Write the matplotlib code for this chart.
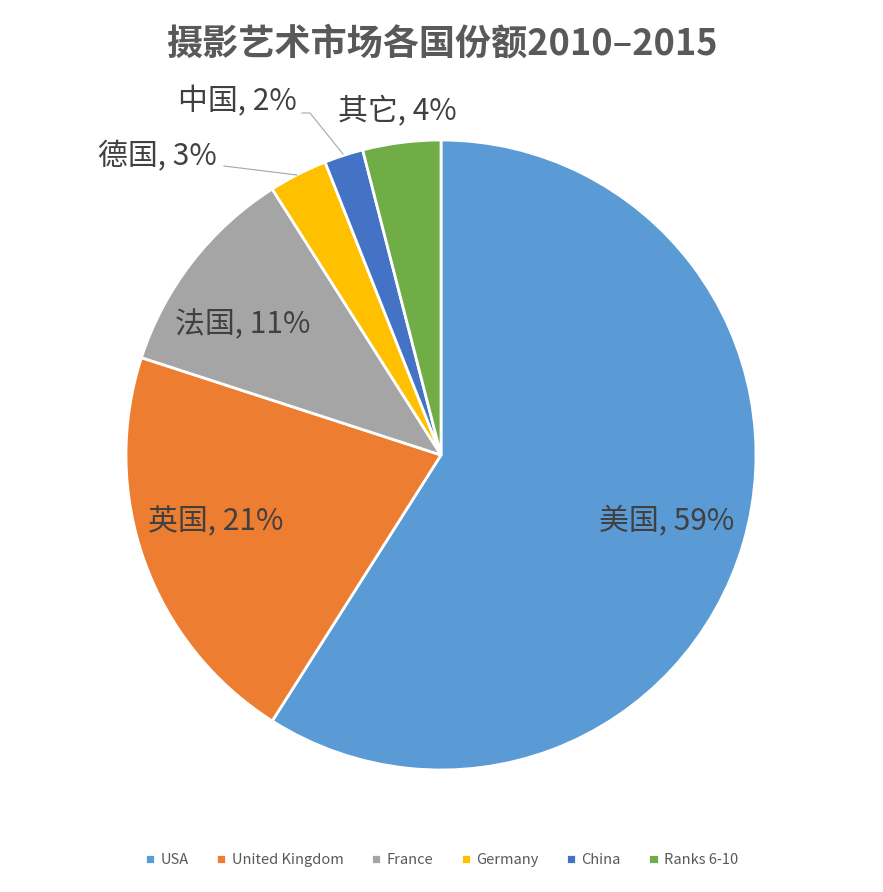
import matplotlib.pyplot as plt

plt.rcParams['font.family'] = ['Noto Sans CJK SC', 'DejaVu Sans']

countries = ['美国', '英国', '法国', '德国', '中国', '其它']
legend_names = ['USA', 'United Kingdom', 'France', 'Germany', 'China', 'Ranks 6-10']
shares = [59, 21, 11, 3, 2, 4]
colors = ['#5B9BD5', '#ED7D31', '#A5A5A5', '#FFC000', '#4472C4', '#70AD47']
title = '摄影艺术市场各国份额2010–2015'


def main():
    fig = plt.figure(figsize=(8.83, 8.92), dpi=100)
    cx, cy, r = 441, 455, 315
    ax = fig.add_axes([(cx - r) / 883, (892 - cy - r) / 892, 2 * r / 883, 2 * r / 892])
    wedges, _ = ax.pie(shares, colors=colors, startangle=90, counterclock=False,
                       radius=1.0,
                       wedgeprops=dict(edgecolor='white', linewidth=2))
    ax.set_xlim(-1, 1)
    ax.set_ylim(-1, 1)
    ax.set_aspect('equal')
    ax.axis('off')

    # label positions in pixels (layout only)
    label_px = [(667, 522), (216, 522), (243, 325), (157, 157), (237, 102), (397, 112)]
    for name, val, (px, py) in zip(countries, shares, label_px):
        x = (px - cx) / r
        y = (cy - py) / r
        ax.text(x, y, f'{name}, {val}%', ha='center', va='center',
                fontsize=21.5, color='#404040', clip_on=False)

    # leader lines for small slices
    def to_data(px, py):
        return (px - cx) / r, (cy - py) / r
    g = [to_data(224, 166), to_data(297, 175)]
    ax.plot([p[0] for p in g], [p[1] for p in g], color='#a6a6a6', lw=0.8,
            clip_on=False)
    c = [to_data(302, 113), to_data(310, 113), to_data(343, 154)]
    ax.plot([p[0] for p in c], [p[1] for p in c], color='#a6a6a6', lw=0.8,
            clip_on=False)

    fig.text(0.5, 1 - 44 / 892, title, ha='center', va='center',
             fontsize=26, fontweight='bold', color='#595959')

    fig.legend(wedges, legend_names, loc='center', bbox_to_anchor=(0.5, 1 - 860 / 892),
               ncol=6, frameon=False, fontsize=10.5, labelcolor='#595959',
               handlelength=0.7, handleheight=0.7, handletextpad=0.35,
               columnspacing=1.9)

    fig.savefig('out.png', dpi=100)


if __name__ == '__main__':
    main()
